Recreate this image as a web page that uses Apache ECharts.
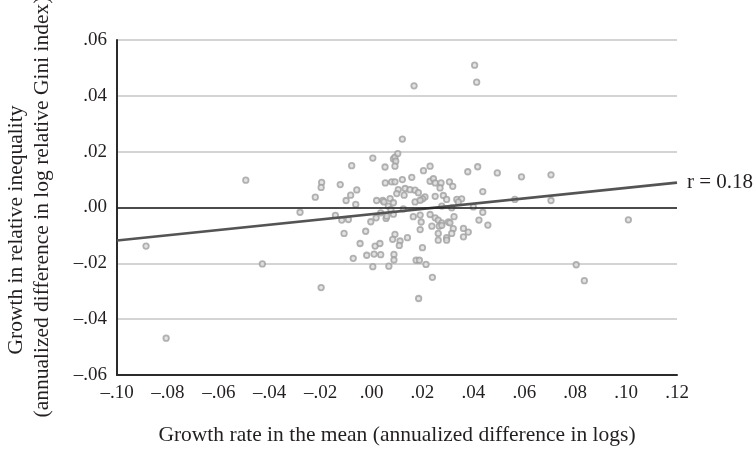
<!DOCTYPE html>
<html>
<head>
<meta charset="utf-8">
<script src="https://cdn.jsdelivr.net/npm/echarts@6/dist/echarts.min.js"></script>
<style>
  html, body { margin: 0; padding: 0; background: #fff; }
  #chart { width: 755px; height: 458px; }
</style>
</head>
<body>
<div id="chart"></div>
<script>
// Growth in the mean vs. growth in relative inequality, one point per spell
const growthMean = [
  -0.0886, -0.0807, -0.0494, -0.0429, -0.0281, -0.0221, -0.0198, -0.0196, -0.0198, -0.0142,
  -0.0123, -0.0117, -0.0108, -0.0100, -0.0091, -0.0082, -0.0078, -0.0072, -0.0062, -0.0058,
  -0.0045, -0.0023, -0.0019, -0.0003, 0.0005, 0.0005, 0.0010, 0.0014, 0.0018, 0.0020,
  0.0033, 0.0036, 0.0036, 0.0044, 0.0049, 0.0053, 0.0054, 0.0057, 0.0060, 0.0066,
  0.0068, 0.0073, 0.0076, 0.0086, 0.0086, 0.0079, 0.0086, 0.0092, 0.0103, 0.0095,
  0.0092, 0.0092, 0.0121, 0.0158, 0.0088, 0.0088, 0.0121, 0.0167, 0.0405, 0.0413,
  0.0204, 0.0230, 0.0378, 0.0417, 0.0494, 0.0589, 0.0705, 0.0230, 0.0243, 0.0250,
  0.0273, 0.0306, 0.0319, 0.0269, 0.0105, 0.0132, 0.0151, 0.0171, 0.0184, 0.0099,
  0.0128, 0.0210, 0.0201, 0.0250, 0.0282, 0.0295, 0.0335, 0.0354, 0.0341, 0.0437,
  0.0563, 0.0705, 0.0171, 0.0191, 0.0125, 0.0276, 0.0315, 0.0400, 0.0437, 0.0164,
  0.0191, 0.0230, 0.0250, 0.0262, 0.0276, 0.0302, 0.0324, 0.0422, 0.0457, 0.1009,
  0.0195, 0.0237, 0.0191, 0.0266, 0.0276, 0.0308, 0.0321, 0.0361, 0.0380, 0.0361,
  0.0262, 0.0262, 0.0295, 0.0315, 0.0295, 0.0092, 0.0083, 0.0112, 0.0141, 0.0109,
  0.0200, 0.0175, 0.0188, 0.0214, 0.0239, 0.0185, 0.0804, 0.0836
];
const growthGini = [
  -0.0138, -0.0468, 0.0098, -0.0202, -0.0017, 0.0037, -0.0287, 0.0090, 0.0072, -0.0028,
  0.0082, -0.0045, -0.0093, 0.0025, -0.0043, 0.0044, 0.0150, -0.0182, 0.0011, 0.0063,
  -0.0129, -0.0085, -0.0171, -0.0051, 0.0177, -0.0212, -0.0167, -0.0138, -0.0037, 0.0025,
  -0.0129, -0.0169, -0.0019, 0.0025, 0.0020, 0.0145, 0.0088, -0.0039, -0.0031, 0.0005,
  -0.0210, 0.0032, -0.0007, 0.0017, -0.0024, 0.0092, 0.0174, 0.0180, 0.0193, 0.0166,
  0.0148, 0.0092, 0.0100, 0.0108, -0.0168, -0.0188, 0.0245, 0.0436, 0.0510, 0.0449,
  0.0132, 0.0148, 0.0128, 0.0146, 0.0124, 0.0110, 0.0117, 0.0094, 0.0103, 0.0088,
  0.0088, 0.0092, 0.0076, 0.0070, 0.0064, 0.0068, 0.0064, 0.0062, 0.0053, 0.0050,
  0.0044, 0.0038, 0.0031, 0.0040, 0.0043, 0.0029, 0.0029, 0.0031, 0.0020, 0.0057,
  0.0029, 0.0025, 0.0020, 0.0026, -0.0005, 0.0005, -0.0001, 0.0002, -0.0017, -0.0033,
  -0.0027, -0.0025, -0.0037, -0.0045, -0.0055, -0.0052, -0.0033, -0.0045, -0.0063, -0.0044,
  -0.0052, -0.0067, -0.0079, -0.0067, -0.0064, -0.0055, -0.0076, -0.0075, -0.0088, -0.0105,
  -0.0093, -0.0117, -0.0108, -0.0093, -0.0117, -0.0096, -0.0114, -0.0120, -0.0108, -0.0136,
  -0.0144, -0.0189, -0.0189, -0.0204, -0.0250, -0.0326, -0.0205, -0.0262
];

// Fitted line across the full x range
const fitX = [-0.10, 0.12];
const fitY = [-0.0118, 0.0089];
const fitLabel = 'r = 0.18';

// Axis ranges and tick spacing
const xMin = -0.10, xMax = 0.12, xStep = 0.02;
const yMin = -0.06, yMax = 0.06, yStep = 0.02;

const xTitle = 'Growth rate in the mean (annualized difference in logs)';
const yTitle1 = 'Growth in relative inequality';
const yTitle2 = '(annualized difference in log relative Gini index)';

// ".04", "–.02" style tick labels
function tickText(v) {
  const r = Math.round(v * 100) / 100;
  const s = Math.abs(r).toFixed(2).replace(/^0/, '');
  return r < 0 ? '\u2013' + s : s;
}

const FONT = '"Liberation Serif", "DejaVu Serif", serif';
const INK = '#231f20';

const points = growthMean.map((x, i) => [x, growthGini[i]]);
const fitLine = fitX.map((x, i) => [x, fitY[i]]);

const chart = echarts.init(document.getElementById('chart'), null, { renderer: 'canvas' });
chart.setOption({
  backgroundColor: '#ffffff',
  animation: false,
  grid: { left: 117, right: 78, top: 40, bottom: 83 },
  xAxis: {
    type: 'value', min: xMin, max: xMax, interval: xStep,
    axisLine: { show: true, onZero: false, lineStyle: { color: '#2b2b2b', width: 2 } },
    axisTick: { show: false },
    splitLine: { show: false },
    axisLabel: {
      formatter: tickText, color: INK, fontFamily: FONT, fontSize: 19, margin: 9
    },
    name: xTitle, nameLocation: 'middle', nameGap: 49,
    nameTextStyle: { color: INK, fontFamily: FONT, fontSize: 21.5 }
  },
  yAxis: {
    type: 'value', min: yMin, max: yMax, interval: yStep,
    axisLine: { show: true, onZero: false, lineStyle: { color: '#2b2b2b', width: 2 } },
    axisTick: { show: false },
    splitLine: { show: true, lineStyle: { color: '#c6c6c6', width: 1.5 } },
    axisLabel: {
      formatter: tickText, color: INK, fontFamily: FONT, fontSize: 19, margin: 10
    }
  },
  graphic: [
    {
      type: 'text', rotation: Math.PI / 2,
      x: 16, y: 230,
      style: { text: yTitle1, font: '21.5px ' + FONT, fill: INK, align: 'center', verticalAlign: 'middle' }
    },
    {
      type: 'text', rotation: Math.PI / 2,
      x: 42, y: 207,
      style: { text: yTitle2, font: '21.5px ' + FONT, fill: INK, align: 'center', verticalAlign: 'middle' }
    }
  ],
  series: [
    {
      type: 'scatter',
      data: points,
      symbol: 'circle',
      symbolSize: 5.5,
      itemStyle: { color: '#dcdcdc', borderColor: '#a0a0a0', borderWidth: 1.8 },
      z: 3,
      markLine: {
        silent: true, symbol: ['none', 'none'],
        label: { show: false },
        lineStyle: { color: '#1e1e1e', width: 1.5, type: 'solid' },
        data: [{ yAxis: 0 }]
      }
    },
    {
      type: 'line',
      data: fitLine,
      symbol: 'none',
      lineStyle: { color: '#545454', width: 2.6 },
      z: 4,
      endLabel: {
        show: true, formatter: fitLabel, distance: 10,
        color: INK, fontFamily: FONT, fontSize: 21
      }
    }
  ]
});
</script>
</body>
</html>
